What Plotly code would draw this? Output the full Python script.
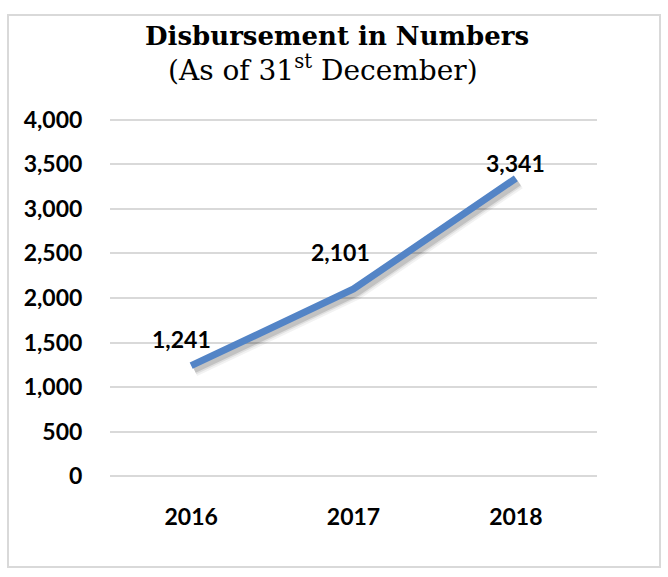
import plotly.graph_objects as go

# Disbursement totals as of 31 December each year
years = ["2016", "2017", "2018"]
disbursed = [1241, 2101, 3341]
y_ticks = [0, 500, 1000, 1500, 2000, 2500, 3000, 3500, 4000]
y_tick_labels = [f"{v:,}" for v in y_ticks]

W, H = 668, 577
ML, MR, MT, MB = 110, 71, 116, 97
pw, ph = W - ML - MR, H - MT - MB

line_color = "#5384C6"
label_font = dict(family="Lato", size=23, color="#000000")
serif = "DejaVu Serif"

X_RANGE = [-0.5, 2.5]
Y_RANGE = [-40, 4040]   # pad so the 0 and 4,000 gridlines are not clipped

fig = go.Figure()

# transparent copy on the base axes so the grid and tick labels get built
fig.add_trace(go.Scatter(
    x=years, y=disbursed, mode="lines",
    line=dict(color="rgba(0,0,0,0)", width=1),
    hoverinfo="skip", showlegend=False,
))

# soft drop shadow under the line: same data on an overlaid axis pair whose
# ranges are nudged a few pixels so the stroke lands down and right
sx = 3 * (X_RANGE[1] - X_RANGE[0]) / pw
sy = 4 * (Y_RANGE[1] - Y_RANGE[0]) / ph
for width, alpha in [(14, 0.05), (10, 0.08), (7, 0.13)]:
    fig.add_trace(go.Scatter(
        x=years, y=disbursed, mode="lines", xaxis="x2", yaxis="y2",
        line=dict(color=f"rgba(0,0,0,{alpha})", width=width),
        hoverinfo="skip", showlegend=False,
    ))

# the line itself, on its own overlay so it sits above the shadow
fig.add_trace(go.Scatter(
    x=years, y=disbursed, mode="lines", xaxis="x3", yaxis="y3",
    line=dict(color=line_color, width=7),
    showlegend=False,
))

# value labels above each point
for i, (v, xs, ys) in enumerate(zip(disbursed, [-10, -13, 0], [27, 37, 15])):
    fig.add_annotation(
        x=i, y=v, xref="x3", yref="y3", text=f"<b>{v:,}</b>",
        showarrow=False, yshift=ys, xshift=xs, font=label_font,
    )

# title block
cx = W / 2 + 3 - ML - pw / 2
fig.add_annotation(
    x=0.5, y=1, xref="paper", yref="paper", yanchor="bottom",
    xshift=cx, yshift=63,
    text="<b>Disbursement in Numbers</b>", showarrow=False,
    font=dict(family=serif, size=26, color="#000000"),
)
fig.add_annotation(
    x=0.5, y=1, xref="paper", yref="paper", yanchor="bottom",
    xshift=cx - 14, yshift=27,
    text="(As of 31<sup>st</sup> December)", showarrow=False,
    font=dict(family=serif, size=28, color="#000000"),
)

# light frame around the chart
fig.add_shape(
    type="rect", xref="paper", yref="paper",
    x0=(8 - ML) / pw, x1=(660 - ML) / pw,
    y0=-(567 - MT - ph) / ph, y1=1 + (MT - 15) / ph,
    line=dict(color="#D9D9D9", width=2), fillcolor="rgba(0,0,0,0)", layer="below",
)

common_x = dict(type="category", categoryorder="array", categoryarray=years)
hidden = dict(showgrid=False, showticklabels=False, showline=False,
              zeroline=False, ticks="")

fig.update_layout(
    width=W, height=H,
    margin=dict(l=ML, r=MR, t=MT, b=MB),
    paper_bgcolor="white", plot_bgcolor="white",
    xaxis=dict(**common_x, range=X_RANGE, showgrid=False, showline=False,
               zeroline=False, ticks="outside", ticklen=16,
               tickcolor="rgba(0,0,0,0)", tickfont=label_font,
               tickprefix="<b>", ticksuffix="</b>"),
    yaxis=dict(range=Y_RANGE, tickvals=y_ticks,
               ticktext=[f"<b>{t}</b>" for t in y_tick_labels],
               tickfont=label_font, showgrid=True, gridcolor="#D9D9D9",
               gridwidth=2, zeroline=True, zerolinecolor="#D9D9D9",
               zerolinewidth=2, showline=False,
               ticks="outside", ticklen=22, tickcolor="rgba(0,0,0,0)"),
    xaxis2=dict(**common_x, **hidden, range=[X_RANGE[0] - sx, X_RANGE[1] - sx],
                overlaying="x", anchor="y2"),
    yaxis2=dict(**hidden, range=[Y_RANGE[0] + sy, Y_RANGE[1] + sy],
                overlaying="y", anchor="x2"),
    xaxis3=dict(**common_x, **hidden, range=X_RANGE, overlaying="x",
                anchor="y3"),
    yaxis3=dict(**hidden, range=Y_RANGE, overlaying="y", anchor="x3"),
)

fig.write_html("out.html")
